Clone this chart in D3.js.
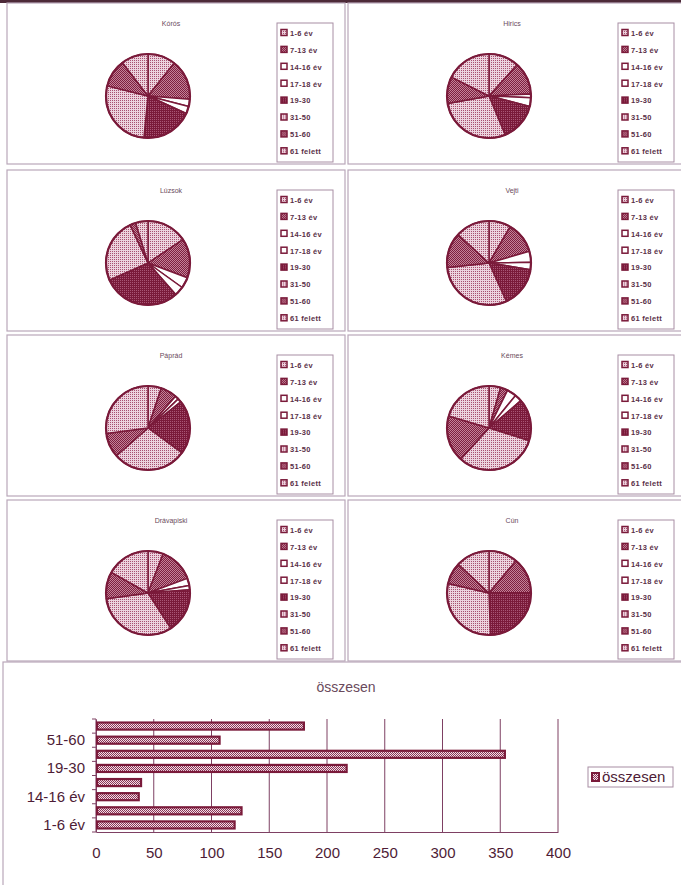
<!DOCTYPE html>
<html>
<head>
<meta charset="utf-8">
<script src="https://cdn.jsdelivr.net/npm/d3@7/dist/d3.min.js"></script>
<style>
  body { margin: 0; background: #fff; }
  svg { display: block; }
</style>
</head>
<body>
<svg id="chart" width="681" height="885"></svg>
<script>
// age groups (legend + bar categories)
const ageGroups = ["1-6 év", "7-13 év", "14-16 év", "17-18 év", "19-30", "31-50", "51-60", "61 felett"];

// villages, one pie each
const villages = ["Kórós", "Hirics", "Lúzsok", "Vejti", "Páprád", "Kémes", "Drávapiski", "Cún"];

// pie values
const korosValues      = [38, 55, 10, 10, 70, 97, 38, 37];
const hiricsValues     = [42, 45, 5, 12, 53, 102, 37, 63];
const luzsokValues     = [56, 54, 15, 13, 107, 88, 8, 17];
const vejtiValues      = [30, 43, 15, 10, 56, 107, 48, 47];
const papradValues     = [18, 22, 5, 5, 73, 100, 33, 95];
const kemesValues      = [16, 10, 13, 10, 58, 114, 64, 73];
const dravapiskiValues = [21, 48, 10, 6, 61, 114, 37, 60];
const cunValues        = [40, 50, 0, 0, 88, 105, 30, 47];

const villageValues = [korosValues, hiricsValues, luzsokValues, vejtiValues,
                       papradValues, kemesValues, dravapiskiValues, cunValues];

// összesen bar chart
const totalTitle = "összesen";
const totalValues = [120, 126, 37, 39, 217, 354, 107, 180];
const totalTicks = [0, 50, 100, 150, 200, 250, 300, 350, 400];
const totalLabels = ["1-6 év", "14-16 év", "19-30", "51-60"];

const maroon = "#7a1a3a";
const ink = "#4e1c36";
const frame = "#b9a7b9";
const fillOf = ["light", "medium", "white", "white", "dark", "light", "medium", "light"];

const svg = d3.select("#chart");
const defs = svg.append("defs");

// checker patterns that imitate the printed hatching
function pattern(id, bg, fg, cells) {
  const p = defs.append("pattern")
    .attr("id", id)
    .attr("patternUnits", "userSpaceOnUse")
    .attr("width", 2).attr("height", 2);
  p.append("rect").attr("width", 2).attr("height", 2).attr("fill", bg);
  cells.forEach(c => p.append("rect").attr("x", c[0]).attr("y", c[1])
    .attr("width", 1).attr("height", 1).attr("fill", fg));
}
pattern("light", "#ecd3de", "#a85070", [[0, 0]]);
pattern("medium", "#c48298", "#7d1f3f", [[0, 0], [1, 1]]);
pattern("dark", "#a85575", "#7a1a3a", [[0, 0], [1, 1], [1, 0]]);
pattern("bar", "#f3dfe8", "#8a3555", [[0, 0], [1, 1]]);

const fillUrl = k => k === "white" ? "#fff" : `url(#${k})`;

// dark strip along the top edge of the scan
svg.append("rect").attr("x", 0).attr("y", 0).attr("width", 681).attr("height", 3)
  .attr("fill", "#4d2a38");

// ---- pies ----
const rowTops = [3, 170, 335, 500];
const radius = 42;
const pie = d3.pie().sort(null).value(d => d);
const arc = d3.arc().innerRadius(0).outerRadius(radius);

villages.forEach((name, i) => {
  const col = i % 2, row = Math.floor(i / 2);
  const px = col ? 348 : 7, py = rowTops[row];
  const pw = col ? 340 : 338, ph = 161;
  const g = svg.append("g");

  g.append("rect").attr("x", px).attr("y", py).attr("width", pw).attr("height", ph)
    .attr("fill", "#fff").attr("stroke", frame).attr("stroke-width", 1.2);

  g.append("text")
    .attr("x", px + 164).attr("y", py + 23)
    .attr("text-anchor", "middle")
    .attr("font-family", "Liberation Sans, Arial, sans-serif")
    .attr("font-size", 7).attr("fill", "#6a4a5c")
    .text(name);

  const pg = g.append("g").attr("transform", `translate(${px + 141},${py + 93})`);
  pg.selectAll("path")
    .data(pie(villageValues[i]))
    .join("path")
    .attr("d", arc)
    .attr("fill", (d, k) => fillUrl(fillOf[k]))
    .attr("stroke", maroon)
    .attr("stroke-width", 1.5)
    .attr("stroke-linejoin", "round");
  pg.append("circle").attr("r", radius).attr("fill", "none")
    .attr("stroke", maroon).attr("stroke-width", 2.2);

  // legend
  const lx = px + 270, ly = py + 20;
  g.append("rect").attr("x", lx).attr("y", ly).attr("width", 56).attr("height", 139)
    .attr("fill", "#fff").attr("stroke", "#a88ea4").attr("stroke-width", 1);
  const li = g.selectAll("g.li").data(ageGroups).join("g")
    .attr("transform", (d, k) => `translate(${lx + 4},${ly + 10 + k * 16.9})`);
  li.append("rect").attr("x", 0).attr("y", -3.5).attr("width", 6).attr("height", 6)
    .attr("fill", (d, k) => fillUrl(fillOf[k]))
    .attr("stroke", maroon).attr("stroke-width", 1.5);
  li.append("text").attr("x", 9).attr("y", 2.8)
    .attr("font-family", "Liberation Sans, Arial, sans-serif")
    .attr("font-size", 7.5).attr("font-weight", "bold")
    .attr("letter-spacing", 0.3)
    .attr("fill", "#5a3048")
    .text(d => d);
});

// ---- összesen bar chart ----
svg.append("rect").attr("x", 3).attr("y", 662).attr("width", 690).attr("height", 230)
  .attr("fill", "#fff").attr("stroke", frame).attr("stroke-width", 1.2);

svg.append("text")
  .attr("x", 346).attr("y", 692)
  .attr("text-anchor", "middle")
  .attr("font-family", "Liberation Sans, Arial, sans-serif")
  .attr("font-size", 14).attr("fill", "#6a4a5c")
  .text(totalTitle);

const x = d3.scaleLinear().domain([0, 400]).range([96, 558]);
const y = d3.scaleBand().domain(ageGroups).range([832, 719]).paddingInner(0.5).paddingOuter(0.25);

svg.append("g").selectAll("line").data(totalTicks).join("line")
  .attr("x1", d => x(d)).attr("x2", d => x(d))
  .attr("y1", 719).attr("y2", 832)
  .attr("stroke", "#7e4063").attr("stroke-width", 1);

const xAxis = d3.axisBottom(x).tickValues(totalTicks).tickSize(0).tickPadding(15);
const gx = svg.append("g").attr("transform", "translate(0,832)").call(xAxis);
gx.select(".domain").attr("stroke", "#7e4063");
gx.selectAll("text")
  .attr("font-family", "Liberation Sans, Arial, sans-serif")
  .attr("font-size", 15).attr("fill", ink);

const yAxis = d3.axisLeft(y).tickSize(0).tickPadding(11)
  .tickFormat(d => totalLabels.includes(d) ? d : "");
const gy = svg.append("g").attr("transform", "translate(96,0)").call(yAxis);
gy.select(".domain").attr("stroke", "#7e4063");
gy.selectAll("text")
  .attr("font-family", "Liberation Sans, Arial, sans-serif")
  .attr("font-size", 15).attr("fill", ink);
// tick marks between categories
gy.selectAll("line.sep").data(d3.range(ageGroups.length + 1)).join("line")
  .attr("class", "sep")
  .attr("x1", -4).attr("x2", 0)
  .attr("y1", k => 832 - k * y.step())
  .attr("y2", k => 832 - k * y.step())
  .attr("stroke", "#7e4063");

svg.append("g").selectAll("rect").data(totalValues).join("rect")
  .attr("x", x(0) + 1)
  .attr("y", (d, k) => y(ageGroups[k]))
  .attr("width", d => x(d) - x(0) - 1)
  .attr("height", y.bandwidth())
  .attr("fill", "url(#bar)")
  .attr("stroke", maroon).attr("stroke-width", 2.2);

// legend
svg.append("rect").attr("x", 588).attr("y", 767).attr("width", 85).attr("height", 20)
  .attr("fill", "#fff").attr("stroke", "#a88ea4");
svg.append("rect").attr("x", 592).attr("y", 773).attr("width", 7).attr("height", 8)
  .attr("fill", "url(#bar)").attr("stroke", maroon).attr("stroke-width", 2);
svg.append("text").attr("x", 602).attr("y", 782)
  .attr("font-family", "Liberation Sans, Arial, sans-serif")
  .attr("font-size", 15).attr("fill", ink)
  .text(totalTitle);
</script>
</body>
</html>
